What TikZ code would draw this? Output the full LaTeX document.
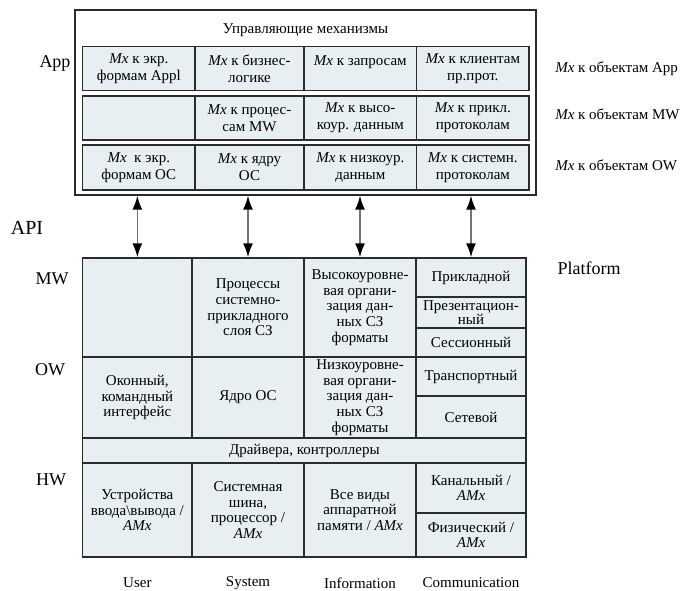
\documentclass[tikz,border=0pt]{standalone}
\usepackage{fontspec}
\setmainfont{Liberation Serif}
\usepackage{tikz}
\usetikzlibrary{positioning}
\usetikzlibrary{arrows.meta}
\definecolor{cellfill}{HTML}{E7EFF2}
\definecolor{cellline}{HTML}{2B2B2B}
% cell from (x1,y1) to (x2,y2), picture units are pixels, y downwards
\newcommand{\cellnode}[7][]{%
  \node[cell,#1,minimum width={(#5-#3)*1pt},minimum height={(#6-#4)*1pt}]
    (#2) at ({(#3+#5)/2},{(#4+#6)/2}) {#7};}

\begin{document}
\begin{tikzpicture}[x=1pt, y=-1pt, >=Latex, semithick]
\tikzstyle{cell}=[rectangle,draw=cellline,fill=cellfill,line width=1.3pt,inner sep=0pt,align=center,font=\fontsize{15}{15.7}\selectfont]
\tikzstyle{topcell}=[font=\fontsize{15}{17}\selectfont]
\tikzstyle{side}=[font=\fontsize{18}{20}\selectfont]
\tikzstyle{obj}=[anchor=west,inner sep=0pt,font=\fontsize{15}{17}\selectfont]
\tikzstyle{col}=[font=\fontsize{15}{17}\selectfont]
\tikzstyle{api}=[draw=black!55,line width=1.6pt,{Latex[length=14pt,width=10pt,color=black]}-{Latex[length=14pt,width=10pt,color=black]}]
\useasboundingbox (0,0) rectangle (683,591);

% control mechanisms
\node[draw=cellline,line width=1.3pt,inner sep=0pt,minimum width=461pt,minimum height=185pt] (ctrl) at (305.5,102.5) {};
\node[font=\fontsize{15}{17}\selectfont] (ctrltitle) at (305.5,30) {Управляющие механизмы};

\cellnode[topcell]{a1}{82.7}{46.7}{195}{90.7}{\textit{Mx} к экр.\\формам Appl}
\cellnode[topcell]{a2}{195}{46.7}{304}{90.7}{\textit{Mx} к бизнес-\\логике}
\cellnode[topcell]{a3}{304}{46.7}{416.7}{90.7}{\textit{Mx} к запросам\\~}
\cellnode[topcell]{a4}{416.7}{46.7}{529}{90.7}{\textit{Mx} к клиентам\\пр.прот.}

\cellnode[topcell]{b1}{82.7}{96}{195}{140}{}
\cellnode[topcell]{b2}{195}{96}{304}{140}{\textit{Mx} к процес-\\сам MW}
\cellnode[topcell]{b3}{304}{96}{416.7}{140}{\textit{Mx} к высо-\\коур. данным}
\cellnode[topcell]{b4}{416.7}{96}{529}{140}{\textit{Mx} к прикл.\\протоколам}

\cellnode[topcell]{c1}{82.7}{145}{195}{190}{\textit{Mx}\ \ к экр.\\формам ОС}
\cellnode[topcell]{c2}{195}{145}{304}{190}{\textit{Mx} к ядру\\ОС}
\cellnode[topcell]{c3}{304}{145}{416.7}{190}{\textit{Mx} к низкоур.\\данным}
\cellnode[topcell]{c4}{416.7}{145}{529}{190}{\textit{Mx} к системн.\\протоколам}

\node[obj] (objapp) at (555,69) {\textit{Mx} к объектам App};
\node[obj] (objmw) at (555,114) {\textit{Mx} к объектам MW};
\node[obj] (objow) at (555,165) {\textit{Mx} к объектам OW};

% platform
\cellnode{u1}{82.7}{258}{192}{357}{}
\cellnode{u2}{192}{258}{304}{357}{Процессы\\системно-\\прикладного\\слоя СЗ}
\cellnode{u3}{304}{258}{416}{357}{Высокоуровне-\\вая органи-\\зация дан-\\ных СЗ\\форматы}
\cellnode{p1}{416}{258}{526}{297}{Прикладной}
\cellnode[font=\fontsize{15}{13}\selectfont]{p2}{416}{297}{526}{328}{Презентацион-\\ный}
\cellnode{p3}{416}{328}{526}{357}{Сессионный}

\cellnode{o1}{82.7}{357}{192}{438}{Оконный,\\командный\\интерфейс}
\cellnode{o2}{192}{357}{304}{438}{Ядро ОС}
\cellnode{o3}{304}{357}{416}{438}{Низкоуровне-\\вая органи-\\зация дан-\\ных СЗ\\форматы}
\cellnode{p4}{416}{357}{526}{396}{Транспортный}
\cellnode{p5}{416}{396}{526}{438}{Сетевой}

\cellnode{drv}{82.7}{438}{526}{463}{Драйвера, контроллеры}

\cellnode{h1}{82.7}{463}{192}{557}{Устройства\\ввода\textbackslash вывода /\\\textit{AMx}}
\cellnode{h2}{192}{463}{304}{557}{Системная\\шина,\\процессор /\\\textit{AMx}}
\cellnode{h3}{304}{463}{416}{557}{Все виды\\аппаратной\\памяти / \textit{AMx}}
\cellnode{p6}{416}{463}{526}{513}{Канальный /\\\textit{AMx}}
\cellnode{p7}{416}{513}{526}{557}{Физический /\\\textit{AMx}}

% API arrows
\foreach \b in {u1,u2,u3,p1}
  \draw[api] (\b.north |- ctrl.south) -- (\b.north);

% levels
\node[side] (app) at (55,63) {App};
\node[side,font=\fontsize{20}{22}\selectfont] (apilbl) at (27,228) {API};
\node[side] (mw) at (52,279) {MW};
\node[side] (ow) at (50,370) {OW};
\node[side] (hw) at (51,480) {HW};
\node[side] (platform) at (589,268) {Platform};

\node[col] (user) at (u1 |- 0,583) {User};
\node[col] (system) at (u2 |- 0,583) {System};
\node[col] (info) at (u3 |- 0,583) {Information};
\node[col] (comm) at (p1 |- 0,583) {Communication};
\end{tikzpicture}
\end{document}
